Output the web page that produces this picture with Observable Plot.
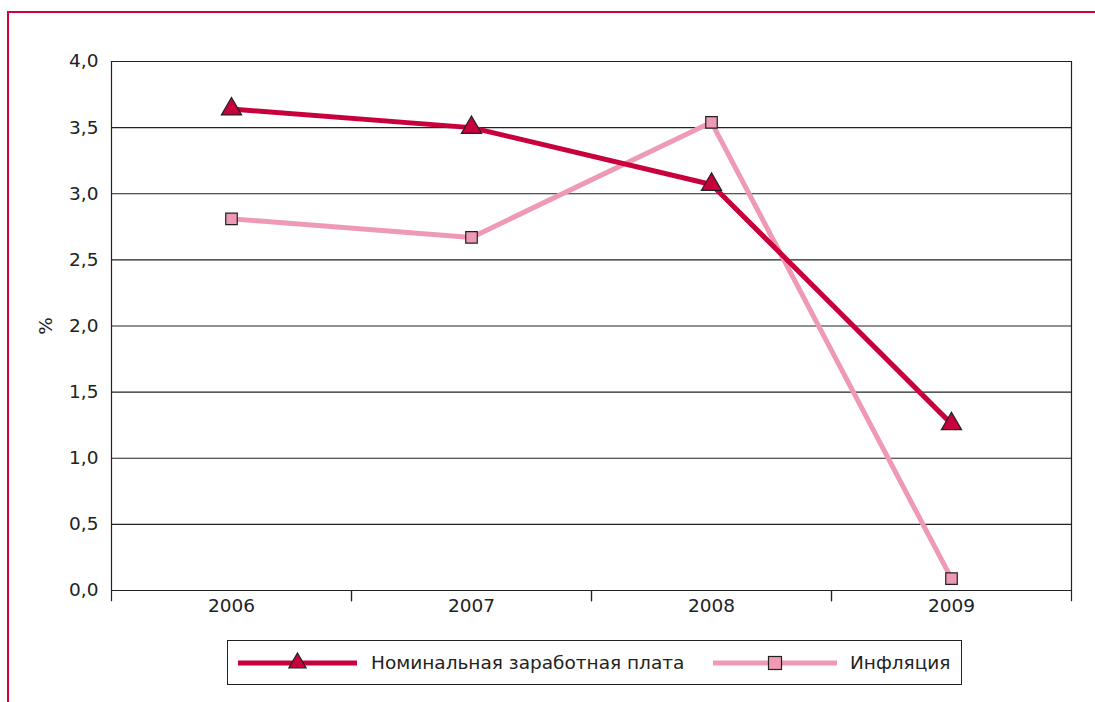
<!DOCTYPE html>
<html>
<head>
<meta charset="utf-8">
<script src="https://cdn.jsdelivr.net/npm/d3@7"></script>
<script src="https://cdn.jsdelivr.net/npm/@observablehq/plot@0.6"></script>
<style>
  html, body { margin: 0; padding: 0; background: #fff; }
  body { width: 1095px; height: 702px; position: relative; overflow: hidden; font-family: "DejaVu Sans", sans-serif; }
  #frame { position: absolute; left: 7px; top: 11px; width: 1100px; height: 700px; border-left: 2px solid #d0003c; border-top: 2px solid #d0003c; }
  #chart { position: absolute; left: 0; top: 0; }
  #legend { position: absolute; left: 227px; top: 640px; width: 733px; height: 43px; border: 1px solid #222; background: #fff; }
  #legend svg { position: absolute; left: 0; top: 0; }
</style>
</head>
<body>
<div id="frame"></div>
<div id="chart"></div>
<div id="legend"></div>
<script>
const years = ["2006", "2007", "2008", "2009"];
const wages = [3.64, 3.50, 3.07, 1.26];
const inflation = [2.81, 2.67, 3.54, 0.09];
const yTicks = [0, 0.5, 1, 1.5, 2, 2.5, 3, 3.5, 4];
const seriesNames = ["Номинальная заработная плата", "Инфляция"];
const seriesColors = ["#c8003c", "#ee9ab4"];

const rows = [];
years.forEach((y, i) => {
  rows.push({year: y, value: wages[i], series: seriesNames[0]});
  rows.push({year: y, value: inflation[i], series: seriesNames[1]});
});
const wRows = rows.filter(d => d.series === seriesNames[0]);
const iRows = rows.filter(d => d.series === seriesNames[1]);
const fmt = v => d3.format(".1f")(v).replace(".", ",");
const FONT = "'DejaVu Sans', sans-serif";
const FS = 18.5;

const W = 1095, H = 640;
const plot = Plot.plot({
  width: W, height: H,
  marginLeft: 111, marginRight: 24, marginTop: 61, marginBottom: 50,
  style: {fontFamily: FONT, fontSize: FS + "px", color: "#222", background: "transparent"},
  x: {type: "band", domain: years, padding: 0, label: null},
  y: {domain: [0, 4], ticks: yTicks, tickFormat: fmt, label: null},
  marks: [
    Plot.ruleY(yTicks, {y: d => d, stroke: "#222", strokeWidth: 1.2}),
    Plot.axisY({ticks: yTicks, tickFormat: fmt, tickSize: 0, tickPadding: 13, fontSize: FS, fill: "#222", label: null}),
    Plot.axisX({tickSize: 0, tickPadding: 8, fontSize: FS, fill: "#222", label: null}),
    // frame sides (left/right of plot area)
    Plot.ruleX(years.filter((d, i) => i === 0), {x: d => d, dx: -120, y1: 0, y2: 4, stroke: "#222", strokeWidth: 1.2}),
    Plot.ruleX(years.filter((d, i) => i === years.length - 1), {x: d => d, dx: 120, y1: 0, y2: 4, stroke: "#222", strokeWidth: 1.2}),
    // category boundary ticks below the axis
    Plot.ruleX(years, {x: d => d, dx: -120, y1: 0, y2: -0.085, stroke: "#222", strokeWidth: 1.2, clip: false}),
    Plot.ruleX(years, {x: d => d, dx: 120, y1: 0, y2: -0.085, stroke: "#222", strokeWidth: 1.2, clip: false}),
    Plot.line(iRows, {x: "year", y: "value", stroke: seriesColors[1], strokeWidth: 5}),
    Plot.line(wRows, {x: "year", y: "value", stroke: seriesColors[0], strokeWidth: 5}),
    Plot.dot(iRows, {x: "year", y: "value", symbol: "square", r: 6.5, fill: seriesColors[1], stroke: "#222", strokeWidth: 1.2}),
    Plot.dot(wRows, {x: "year", y: "value", symbol: "triangle", r: 7.5, fill: seriesColors[0], stroke: "#222", strokeWidth: 1.2})
  ]
});
const svg = d3.select(plot);
svg.append("text").attr("transform", "translate(52,326) rotate(-90)")
  .attr("text-anchor", "middle").attr("font-size", FS).attr("font-family", FONT).attr("fill", "#222").text("%");
document.getElementById("chart").appendChild(plot);

// legend
const lg = d3.select("#legend").append("svg").attr("width", 733).attr("height", 43);
const items = [
  {x0: 10, x1: 129, sym: "triangle", label: seriesNames[0], tx: 143},
  {x0: 485, x1: 609, sym: "square", label: seriesNames[1], tx: 622}
];
items.forEach((it, i) => {
  const cy = 22;
  lg.append("line").attr("x1", it.x0).attr("x2", it.x1).attr("y1", cy).attr("y2", cy)
    .attr("stroke", seriesColors[i]).attr("stroke-width", 5);
  const cx = (it.x0 + it.x1) / 2;
  if (it.sym === "triangle") {
    lg.append("path").attr("d", d3.symbol(d3.symbolTriangle, 130)())
      .attr("transform", `translate(${cx},${cy})`).attr("fill", seriesColors[i]).attr("stroke", "#222").attr("stroke-width", 1.2);
  } else {
    lg.append("rect").attr("x", cx - 6.5).attr("y", cy - 6.5).attr("width", 13).attr("height", 13)
      .attr("fill", seriesColors[i]).attr("stroke", "#222").attr("stroke-width", 1.2);
  }
  lg.append("text").attr("x", it.tx).attr("y", cy).attr("dy", "0.35em")
    .attr("font-size", FS).attr("fill", "#222").attr("font-family", FONT).text(it.label);
});
</script>
</body>
</html>
